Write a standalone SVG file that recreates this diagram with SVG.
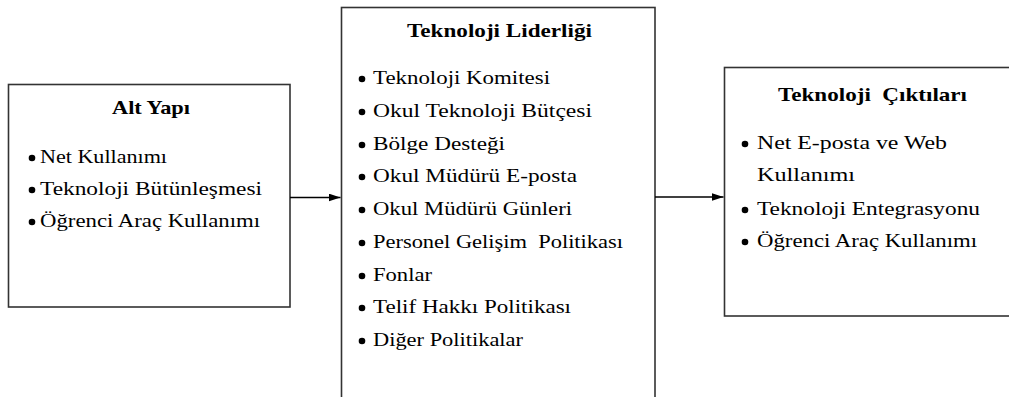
<svg xmlns="http://www.w3.org/2000/svg" width="1009" height="397" viewBox="0 0 1009 397">
  <defs>
    <marker id="arrow" viewBox="0 0 12 8" refX="12" refY="4" markerWidth="12" markerHeight="8" markerUnits="userSpaceOnUse" orient="auto">
      <path d="M0,0 L12,4 L0,8 Z" fill="#000"/>
    </marker>
    <style>
      .box { fill: #fff; stroke: #333; stroke-width: 1.6; }
      .title { font-family: "Liberation Serif", "DejaVu Serif", serif; font-weight: bold; font-size: 19px; fill: #000; }
      .item { font-family: "Liberation Serif", "DejaVu Serif", serif; font-size: 19px; fill: #000; }
      .dot { fill: #000; }
      .link { stroke: #000; stroke-width: 1.5; fill: none; }
    </style>
  </defs>
  <rect width="1009" height="397" fill="#fff"/>

  <!-- Infrastructure box -->
  <g id="alt-yapi">
    <rect class="box" x="8.5" y="84.5" width="281.5" height="222.5"/>
    <text class="title" x="112" y="114" textLength="78" lengthAdjust="spacingAndGlyphs">Alt Yapı</text>
    <circle class="dot" cx="32" cy="158" r="3.3"/>
    <text class="item" x="40" y="163" textLength="127" lengthAdjust="spacingAndGlyphs">Net Kullanımı</text>
    <circle class="dot" cx="32" cy="190" r="3.3"/>
    <text class="item" x="40" y="195" textLength="222" lengthAdjust="spacingAndGlyphs">Teknoloji Bütünleşmesi</text>
    <circle class="dot" cx="32" cy="222" r="3.3"/>
    <text class="item" x="40" y="227" textLength="220" lengthAdjust="spacingAndGlyphs">Öğrenci Araç Kullanımı</text>
  </g>

  <!-- Technology leadership box (runs past the bottom edge) -->
  <g id="teknoloji-liderligi">
    <rect class="box" x="341.5" y="7.5" width="313.5" height="400"/>
    <text class="title" x="407" y="37" textLength="185" lengthAdjust="spacingAndGlyphs">Teknoloji Liderliği</text>
    <circle class="dot" cx="362" cy="79" r="3.3"/>
    <text class="item" x="373" y="84" textLength="177" lengthAdjust="spacingAndGlyphs">Teknoloji Komitesi</text>
    <circle class="dot" cx="362" cy="112" r="3.3"/>
    <text class="item" x="373" y="117" textLength="219" lengthAdjust="spacingAndGlyphs">Okul Teknoloji Bütçesi</text>
    <circle class="dot" cx="362" cy="145" r="3.3"/>
    <text class="item" x="373" y="150" textLength="132" lengthAdjust="spacingAndGlyphs">Bölge Desteği</text>
    <circle class="dot" cx="362" cy="177" r="3.3"/>
    <text class="item" x="373" y="182" textLength="204" lengthAdjust="spacingAndGlyphs">Okul Müdürü E-posta</text>
    <circle class="dot" cx="362" cy="210" r="3.3"/>
    <text class="item" x="373" y="215" textLength="199" lengthAdjust="spacingAndGlyphs">Okul Müdürü Günleri</text>
    <circle class="dot" cx="362" cy="243" r="3.3"/>
    <text class="item" x="373" y="248" textLength="250" lengthAdjust="spacingAndGlyphs" xml:space="preserve">Personel Gelişim  Politikası</text>
    <circle class="dot" cx="362" cy="276" r="3.3"/>
    <text class="item" x="373" y="281" textLength="59" lengthAdjust="spacingAndGlyphs">Fonlar</text>
    <circle class="dot" cx="362" cy="308" r="3.3"/>
    <text class="item" x="373" y="313" textLength="198" lengthAdjust="spacingAndGlyphs">Telif Hakkı Politikası</text>
    <circle class="dot" cx="362" cy="341" r="3.3"/>
    <text class="item" x="373" y="346" textLength="150" lengthAdjust="spacingAndGlyphs">Diğer Politikalar</text>
  </g>

  <!-- Technology outcomes box (runs past the right edge) -->
  <g id="teknoloji-ciktilari">
    <rect class="box" x="724.5" y="67.5" width="300" height="248.5"/>
    <text class="title" x="778" y="101" textLength="189" lengthAdjust="spacingAndGlyphs" xml:space="preserve">Teknoloji  Çıktıları</text>
    <circle class="dot" cx="745" cy="144" r="3.3"/>
    <text class="item" x="757" y="149" textLength="190" lengthAdjust="spacingAndGlyphs">Net E-posta ve Web</text>
    <text class="item" x="757" y="181" textLength="98" lengthAdjust="spacingAndGlyphs">Kullanımı</text>
    <circle class="dot" cx="745" cy="210" r="3.3"/>
    <text class="item" x="757" y="215" textLength="223" lengthAdjust="spacingAndGlyphs">Teknoloji Entegrasyonu</text>
    <circle class="dot" cx="745" cy="242" r="3.3"/>
    <text class="item" x="757" y="247" textLength="220" lengthAdjust="spacingAndGlyphs">Öğrenci Araç Kullanımı</text>
  </g>

  <!-- Connectors -->
  <g id="connectors">
    <line class="link" x1="290" y1="197.5" x2="340.5" y2="197.5" marker-end="url(#arrow)"/>
    <line class="link" x1="655" y1="197" x2="723.5" y2="197" marker-end="url(#arrow)"/>
  </g>
</svg>
